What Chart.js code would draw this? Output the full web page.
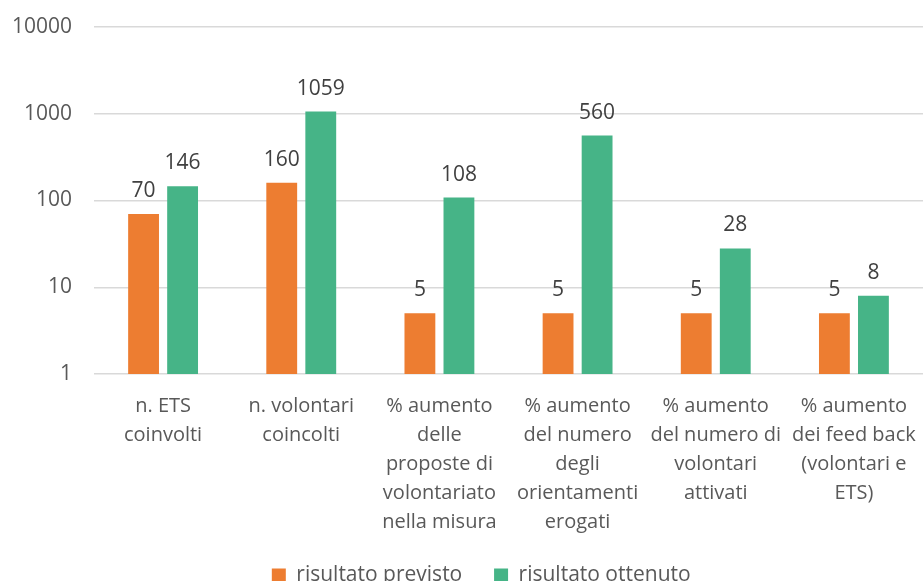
<!DOCTYPE html>
<html>
<head>
<meta charset="utf-8">
<script src="https://cdn.jsdelivr.net/npm/chart.js@4"></script>
<style>
html,body{margin:0;padding:0;background:#fff;overflow:hidden;}
#wrap{width:923px;height:596px;}
</style>
</head>
<body>
<div id="wrap"><canvas id="c" width="923" height="596"></canvas></div>
<script>
const categories = [
  ["n. ETS", "coinvolti"],
  ["n. volontari", "coincolti"],
  ["% aumento", "delle", "proposte di", "volontariato", "nella misura"],
  ["% aumento", "del numero", "degli", "orientamenti", "erogati"],
  ["% aumento", "del numero di", "volontari", "attivati"],
  ["% aumento", "dei feed back", "(volontari e", "ETS)"]
];
const seriesNames = ["risultato previsto", "risultato ottenuto"];
const previsto = [70, 160, 5, 5, 5, 5];
const ottenuto = [146, 1059, 108, 560, 28, 8];
const yTicks = [1, 10, 100, 1000, 10000];
const colors = ["#ED7D31", "#46B487"];

const FONT = "'Open Sans', 'Noto Sans', sans-serif";

const dataLabels = {
  id: 'dataLabels',
  afterDatasetsDraw(chart) {
    const ctx = chart.ctx;
    ctx.save();
    ctx.font = "21px " + FONT;
    ctx.fillStyle = "#404040";
    ctx.textAlign = "center";
    ctx.textBaseline = "middle";
    chart.data.datasets.forEach((ds, i) => {
      const meta = chart.getDatasetMeta(i);
      meta.data.forEach((bar, j) => {
        ctx.fillText(String(ds.data[j]), bar.x, bar.y - 23);
      });
    });
    ctx.restore();
  }
};

new Chart(document.getElementById('c'), {
  type: 'bar',
  data: {
    labels: categories,
    datasets: [
      { label: seriesNames[0], data: previsto, backgroundColor: colors[0] },
      { label: seriesNames[1], data: ottenuto, backgroundColor: colors[1] }
    ]
  },
  options: {
    responsive: false,
    animation: false,
    layout: { padding: { left: 0, right: 0, top: 27, bottom: 0 } },
    datasets: { bar: { categoryPercentage: 0.565, barPercentage: 0.79 } },
    scales: {
      y: {
        type: 'logarithmic',
        min: 1,
        max: 10000,
        afterBuildTicks(scale) { scale.ticks = yTicks.map(v => ({ value: v })); },
        afterFit(scale) { scale.width = 94; scale.paddingTop = 0; scale.paddingBottom = 0; },
        ticks: {
          callback: v => String(v),
          color: "#595959",
          font: { family: FONT, size: 21 },
          padding: 22
        },
        grid: { color: "#D9D9D9", lineWidth: 1.5, drawTicks: false },
        border: { display: false }
      },
      x: {
        grid: { display: false, drawTicks: false },
        border: { display: false },
        afterFit(scale) { scale.paddingLeft = 0; scale.paddingRight = 0; },
        ticks: {
          color: "#595959",
          font: { family: FONT, size: 20, lineHeight: 1.45 },
          maxRotation: 0,
          autoSkip: false,
          padding: 18
        }
      }
    },
    plugins: {
      legend: {
        position: 'bottom',
        fullSize: false,
        labels: {
          color: "#595959",
          font: { family: FONT, size: 21 },
          boxWidth: 14,
          boxHeight: 14,
          padding: 10,
          generateLabels(chart) {
            const items = Chart.defaults.plugins.legend.labels.generateLabels(chart);
            if (items.length > 1) {
              items[0].text = items[0].text + "    ";
              items[1].text = items[1].text + "          ";
            }
            return items;
          }
        }
      },
      tooltip: { enabled: false }
    }
  },
  plugins: [dataLabels]
});
</script>
</body>
</html>
